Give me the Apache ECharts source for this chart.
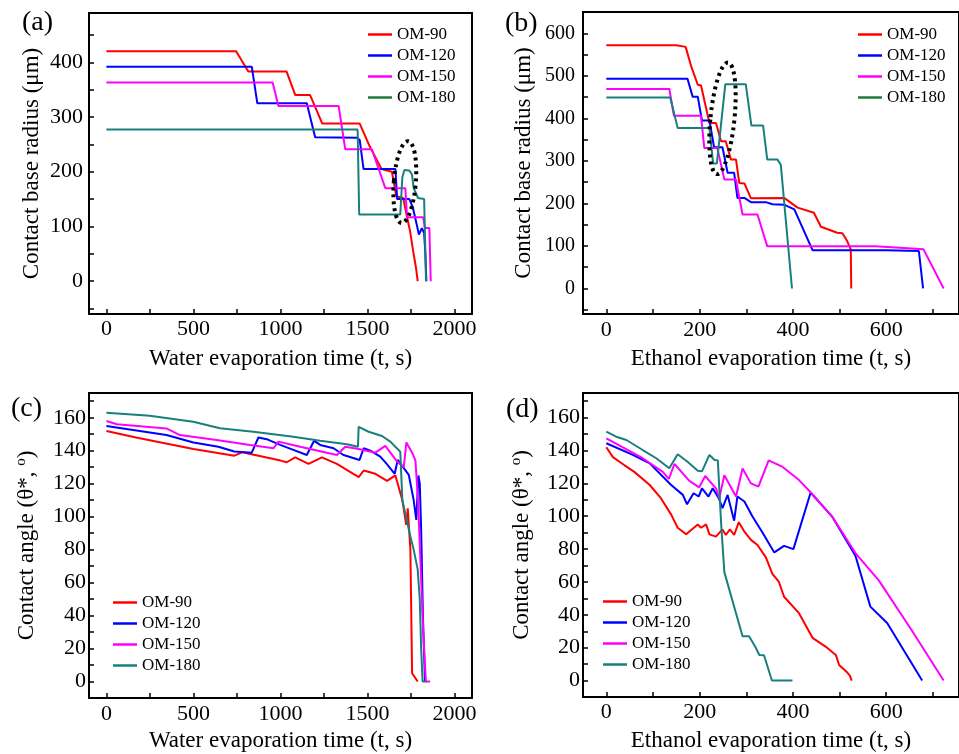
<!DOCTYPE html>
<html>
<head>
<meta charset="utf-8">
<script src="https://cdn.jsdelivr.net/npm/echarts@6/dist/echarts.min.js"></script>
<style>
  html, body { margin: 0; padding: 0; background: #fff; }
  #chart { width: 959px; height: 754px; }
</style>
</head>
<body>
<div id="chart"></div>
<script type="text/javascript">
// series names and colours
var names = ['OM-90', 'OM-120', 'OM-150', 'OM-180'];
var colors = ['#ff0000', '#0000ff', '#ff00ff', '#17807e'];

// (a) contact base radius vs water evaporation time  [t (s), r (um)]
var waterRadius90 = [[0,420],[745,420],[815,383],[1035,383],[1085,340],[1170,340],[1240,288],[1455,288],[1510,248],[1580,205],[1640,200],[1665,155],[1705,152],[1725,120],[1745,90],[1762,55],[1778,25],[1788,0]];
var waterRadius120 = [[0,392],[835,392],[867,325],[1151,325],[1199,263],[1440,262],[1455,258],[1477,205],[1660,205],[1670,150],[1740,150],[1760,135],[1785,100],[1795,85],[1812,97],[1825,88],[1832,50],[1838,0]];
var waterRadius150 = [[0,363],[955,363],[988,320],[1334,320],[1372,241],[1525,241],[1602,170],[1717,170],[1727,117],[1819,117],[1830,97],[1855,97],[1863,0]];
var waterRadius180 = [[0,277],[1443,277],[1452,122],[1688,122],[1700,190],[1712,203],[1740,202],[1755,195],[1765,170],[1790,152],[1825,150],[1836,0]];

// (b) contact base radius vs ethanol evaporation time
var ethRadius90 = [[0,572],[150,572],[170,568],[182,522],[196,479],[203,477],[221,389],[235,389],[246,346],[256,346],[267,303],[278,303],[285,248],[296,247],[310,212],[381,213],[410,190],[445,178],[460,145],[495,131],[506,130],[516,112],[524,92],[525,0]];
var ethRadius120 = [[0,493],[174,493],[185,451],[196,451],[205,395],[221,395],[231,332],[249,332],[260,272],[274,272],[281,213],[296,213],[310,203],[342,203],[356,198],[381,197],[403,186],[442,90],[600,90],[670,88],[679,0]];
var ethRadius150 = [[0,469],[135,469],[145,406],[203,406],[210,330],[238,330],[253,256],[278,256],[292,174],[324,174],[345,99],[577,99],[680,92],[723,0]];
var ethRadius180 = [[0,449],[137,449],[153,377],[221,377],[229,294],[237,294],[255,480],[299,480],[311,383],[336,383],[345,303],[367,303],[374,291],[398,0]];

// (c) contact angle vs water evaporation time  [t (s), angle (deg)]
var waterAngle90 = [[0,152],[170,148],[500,141],[735,137],[780,139],[1000,134],[1036,133],[1084,136],[1161,132],[1238,136],[1324,132],[1449,124],[1478,128],[1545,126],[1612,121.7],[1660,125],[1700,110],[1722,95],[1731,105],[1746,80],[1756,5],[1788,0]];
var waterAngle120 = [[0,155],[345,149.5],[500,145],[643,142.4],[735,139.5],[835,138.8],[873,148],[921,147],[998,143.5],[1074,140.5],[1151,137.4],[1193,146],[1228,143.5],[1305,141.5],[1362,137.4],[1454,134.4],[1478,141.5],[1516,140],[1573,136.4],[1610,132],[1656,126],[1673,134.4],[1737,125.3],[1765,110],[1780,98],[1792,125],[1800,120],[1808,92],[1818,40],[1830,0]];
var waterAngle150 = [[0,158],[60,156],[345,153.5],[422,149.5],[633,146.5],[825,143.5],[960,141.5],[988,145.5],[1113,142.4],[1324,137.4],[1372,142.4],[1450,141],[1545,138.8],[1602,142.9],[1670,133.4],[1708,130],[1723,145],[1760,138],[1775,134],[1790,110],[1805,70],[1820,30],[1835,0],[1860,0]];
var waterAngle180 = [[0,163],[249,161.2],[499,157.6],[652,153.6],[844,151.5],[1074,148.5],[1228,146],[1382,143.9],[1445,142.4],[1449,154.5],[1506,151.5],[1583,148.9],[1631,145.5],[1688,139.4],[1700,110],[1746,88],[1765,80],[1788,68],[1800,50],[1808,20],[1816,0],[1838,0]];

// (d) contact angle vs ethanol evaporation time
var ethAngle90 = [[0,142],[14,136],[39,131],[60,127],[93,119],[117,111],[139,101],[153,93],[171,89],[196,95],[203,93],[214,95],[221,89],[235,87.6],[249,92],[256,88.6],[265,92],[274,88.6],[284,96.4],[296,90.6],[310,85.6],[324,82.5],[342,75],[356,65],[370,60],[381,51],[413,41],[442,26],[470,20.7],[492,15.6],[499,9.5],[516,5],[522,3],[526,0]];
var ethAngle120 = [[0,144.4],[57,137.3],[93,132.2],[139,119],[164,113],[173,107.3],[187,114],[198,112],[205,117],[219,112],[228,117],[241,111],[249,105],[260,113],[274,97.3],[281,112],[296,109],[313,100],[335,90],[360,78],[381,82],[401,80],[438,114.4],[484,99.8],[534,76],[566,45],[602,35],[677,0]];
var ethAngle150 = [[0,147.4],[78,135.3],[121,127],[134,122.7],[146,131.8],[178,121.5],[199,117.6],[212,124.5],[235,117],[242,111],[253,125],[278,112],[292,129],[310,120],[326,118],[348,134],[378,130],[413,122],[438,114.6],[484,99.8],[534,77.6],[584,61],[655,30.5],[723,0]];
var ethAngle180 = [[0,151.5],[21,148.4],[43,146.4],[78,140.3],[107,135.3],[135,129.2],[153,137.7],[174,133.2],[196,127.7],[205,127.3],[221,137.3],[232,134.2],[239,134],[246,96],[253,66],[271,48],[292,27],[306,27],[319,20.7],[328,15.6],[338,15.4],[355,0],[399,0]];

// tick labels and tick marks
var waterLabels = [0, 500, 1000, 1500, 2000];
var waterTicks = [0, 250, 500, 750, 1000, 1250, 1500, 1750, 2000];
var ethLabels = [0, 200, 400, 600];
var ethTicks = [0, 100, 200, 300, 400, 500, 600, 700];
var radiusLabelsA = [0, 100, 200, 300, 400];
var radiusTicksA = [-50, 0, 50, 100, 150, 200, 250, 300, 350, 400, 450];
var radiusLabelsB = [0, 100, 200, 300, 400, 500, 600];
var radiusTicksB = [-50, 0, 50, 100, 150, 200, 250, 300, 350, 400, 450, 500, 550, 600, 650];
var angleLabels = [0, 20, 40, 60, 80, 100, 120, 140, 160];
var angleTicks = [0, 10, 20, 30, 40, 50, 60, 70, 80, 90, 100, 110, 120, 130, 140, 150, 160, 170];

// dotted ellipse centres (data coords) in (a) and (b)
var markA = [1714, 181];
var markB = [249, 400];

var FONT = '"Liberation Serif", "Times New Roman", serif';

function plain(v) { return String(v); }

function xAx(grid, min, max, labels, ticks, name, margin, gap) {
  return {
    type: 'value', gridIndex: grid, min: min, max: max,
    name: name, nameLocation: 'middle', nameGap: gap,
    nameTextStyle: { fontFamily: FONT, fontSize: 23, color: '#000' },
    axisLine: { show: true, onZero: false, lineStyle: { color: '#000', width: 2 } },
    axisTick: { show: true, inside: true, length: 5, customValues: ticks, lineStyle: { color: '#000', width: 1.5 } },
    axisLabel: { customValues: labels, formatter: plain, fontFamily: FONT, fontSize: 22, color: '#000', margin: margin },
    splitLine: { show: false }
  };
}
function yAx(grid, min, max, labels, ticks, name, margin, gap, fs) {
  return {
    type: 'value', gridIndex: grid, min: min, max: max,
    name: name, nameLocation: 'middle', nameGap: gap,
    nameTextStyle: {
      fontFamily: FONT, fontSize: 23, color: '#000',
      rich: { s: { fontFamily: FONT, fontSize: 15, color: '#000', verticalAlign: 'top', padding: [0, 0, 10, 0] } }
    },
    axisLine: { show: true, onZero: false, lineStyle: { color: '#000', width: 2 } },
    axisTick: { show: true, inside: true, length: 5, customValues: ticks, lineStyle: { color: '#000', width: 1.5 } },
    axisLabel: { customValues: labels, formatter: plain, fontFamily: FONT, fontSize: fs, color: '#000', margin: margin },
    splitLine: { show: false }
  };
}
function legendAt(left, top, darkGreen) {
  var data = names.map(function (n, i) {
    var c = (i === 3 && darkGreen) ? '#217a3c' : colors[i];
    return { name: n, icon: 'rect', itemStyle: { color: c, borderWidth: 0 } };
  });
  return {
    orient: 'vertical', left: left, top: top, padding: 0, itemWidth: 24, itemHeight: 2.5, itemGap: 4,
    data: data, selectedMode: false,
    textStyle: { fontFamily: FONT, fontSize: 17, color: '#000', lineHeight: 17 }
  };
}
function lines(grid, sets) {
  return sets.map(function (d, i) {
    return {
      name: names[i], type: 'line', xAxisIndex: grid, yAxisIndex: grid,
      data: d, symbol: 'none', smooth: false, animation: false,
      lineStyle: { color: colors[i], width: 2 }, itemStyle: { color: colors[i] }
    };
  });
}

var chart = echarts.init(document.getElementById('chart'));
var gridStyle = { show: true, borderColor: '#000', borderWidth: 2, containLabel: false };
var option = {
  animation: false,
  grid: [
    Object.assign({ left: 89, top: 13, width: 383, height: 301 }, gridStyle),
    Object.assign({ left: 583, top: 12, width: 377, height: 302 }, gridStyle),
    Object.assign({ left: 89, top: 393, width: 383, height: 305 }, gridStyle),
    Object.assign({ left: 583, top: 393, width: 377, height: 304 }, gridStyle)
  ],
  xAxis: [
    xAx(0, -100, 2100, waterLabels, waterTicks, 'Water evaporation time (t, s)', 4, 33),
    xAx(1, -50, 756, ethLabels, ethTicks, 'Ethanol evaporation time (t, s)', 5, 33),
    xAx(2, -100, 2100, waterLabels, waterTicks, 'Water evaporation time (t, s)', 5, 31),
    xAx(3, -50, 756, ethLabels, ethTicks, 'Ethanol evaporation time (t, s)', 4, 32)
  ],
  yAxis: [
    yAx(0, -60, 490, radiusLabelsA, radiusTicksA, 'Contact base radius (μm)', 6, 46, 22),
    yAx(1, -60, 650, radiusLabelsB, radiusTicksB, 'Contact base radius (μm)', 8, 48, 20),
    yAx(2, -10, 175, angleLabels, angleTicks, 'Contact angle (θ*, {s|o})', 3, 50, 22),
    yAx(3, -10, 175, angleLabels, angleTicks, 'Contact angle (θ*, {s|o})', 3, 49, 22)
  ],
  legend: [
    legendAt(368, 26, true),
    legendAt(858, 26, true),
    legendAt(113, 594, false),
    legendAt(603, 593, false)
  ],
  series: [].concat(
    lines(0, [waterRadius90, waterRadius120, waterRadius150, waterRadius180]),
    lines(1, [ethRadius90, ethRadius120, ethRadius150, ethRadius180]),
    lines(2, [waterAngle90, waterAngle120, waterAngle150, waterAngle180]),
    lines(3, [ethAngle90, ethAngle120, ethAngle150, ethAngle180])
  )
};
chart.setOption(option);

// panel letters and dotted ellipses
var pa = chart.convertToPixel({ gridIndex: 0 }, markA);
var pb = chart.convertToPixel({ gridIndex: 1 }, markB);
var dotted = { fill: 'none', stroke: '#000', lineWidth: 4, lineDash: [3, 4] };
function panelText(x, y, t) {
  return { type: 'text', left: x, top: y, style: { text: t, font: '28px ' + FONT, fill: '#000' } };
}
chart.setOption({
  graphic: [
    panelText(22, 9, '(a)'),
    panelText(505, 10, '(b)'),
    panelText(11, 395, '(c)'),
    panelText(506, 396, '(d)'),
    { type: 'ellipse', x: pa[0], y: pa[1], rotation: -0.08, shape: { cx: 0, cy: 0, rx: 11, ry: 41 }, style: dotted, z: 100 },
    { type: 'ellipse', x: pb[0], y: pb[1], rotation: -0.1, shape: { cx: 0, cy: 0, rx: 12, ry: 56 }, style: dotted, z: 100 }
  ]
});
window.onresize = function () {
  chart.resize();
};
</script>
</body>
</html>
